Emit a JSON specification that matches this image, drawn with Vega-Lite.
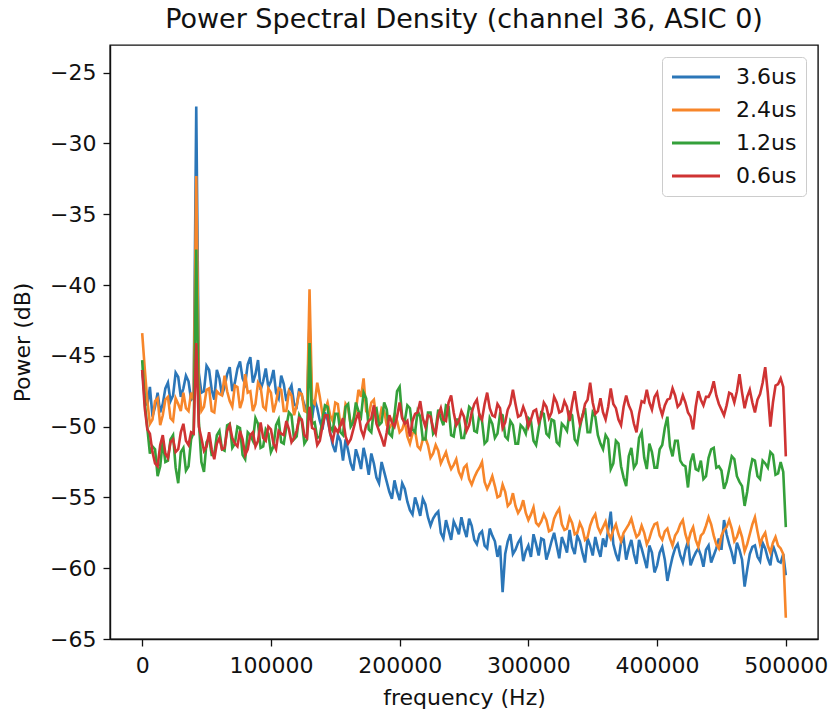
{
  "$schema": "https://vega.github.io/schema/vega-lite/v6.json",
  "autosize": {"type": "none"},
  "width": 708,
  "height": 594,
  "padding": {"left": 110, "top": 45, "right": 15, "bottom": 76},
  "background": "white",
  "title": {"text": "Power Spectral Density (channel 36, ASIC 0)", "font": "DejaVu Sans", "fontSize": 27, "fontWeight": "normal", "color": "#111", "baseline": "bottom", "offset": 8, "dy": 24, "anchor": "middle"},
  "config": {
    "view": {"stroke": "#111", "strokeWidth": 1.4},
    "axis": {"grid": false, "domainColor": "#111", "domainWidth": 1.4, "tickColor": "#111", "tickWidth": 1.3, "tickSize": 7, "labelFont": "DejaVu Sans", "labelFontSize": 22, "labelColor": "#111", "titleFont": "DejaVu Sans", "titleFontSize": 22, "titleFontWeight": "normal", "titleColor": "#111"},
    "legend": {"labelFont": "DejaVu Sans", "labelFontSize": 22, "labelColor": "#111"}
  },
  "datasets": {
    "a": [{"f":0,"p":-46.0},{"f":4000,"p":-48.5},{"f":8000,"p":-49.3},{"f":12000,"p":-47.6},{"f":16000,"p":-48.4},{"f":20000,"p":-46.9},{"f":24000,"p":-47.8},{"f":28000,"p":-46.5},{"f":32000,"p":-47.3},{"f":36000,"p":-46.8},{"f":40000,"p":-47.9},{"f":42000,"p":-27.4},{"f":44000,"p":-46.2},{"f":48000,"p":-47.5},{"f":52000,"p":-46.0},{"f":56000,"p":-48.1},{"f":60000,"p":-46.6},{"f":64000,"p":-47.2},{"f":68000,"p":-45.8},{"f":72000,"p":-46.9},{"f":76000,"p":-45.4},{"f":80000,"p":-47.0},{"f":84000,"p":-45.1},{"f":88000,"p":-46.3},{"f":92000,"p":-47.4},{"f":96000,"p":-45.9},{"f":100000,"p":-46.8},{"f":104000,"p":-47.6},{"f":108000,"p":-46.4},{"f":112000,"p":-48.2},{"f":116000,"p":-47.1},{"f":120000,"p":-48.6},{"f":124000,"p":-47.8},{"f":128000,"p":-48.9},{"f":130000,"p":-42.5},{"f":132000,"p":-49.4},{"f":136000,"p":-48.7},{"f":140000,"p":-50.2},{"f":144000,"p":-49.5},{"f":148000,"p":-51.3},{"f":152000,"p":-50.6},{"f":156000,"p":-52.4},{"f":160000,"p":-51.7},{"f":164000,"p":-53.1},{"f":168000,"p":-52.2},{"f":172000,"p":-51.5},{"f":176000,"p":-53.4},{"f":180000,"p":-52.6},{"f":184000,"p":-54.0},{"f":188000,"p":-53.2},{"f":192000,"p":-54.6},{"f":196000,"p":-53.8},{"f":200000,"p":-55.2},{"f":204000,"p":-54.4},{"f":208000,"p":-55.9},{"f":212000,"p":-55.0},{"f":216000,"p":-56.3},{"f":220000,"p":-55.5},{"f":224000,"p":-57.0},{"f":228000,"p":-56.2},{"f":232000,"p":-57.5},{"f":236000,"p":-56.6},{"f":240000,"p":-58.0},{"f":244000,"p":-57.1},{"f":248000,"p":-56.4},{"f":252000,"p":-57.8},{"f":256000,"p":-57.0},{"f":260000,"p":-58.3},{"f":264000,"p":-57.4},{"f":268000,"p":-58.6},{"f":272000,"p":-57.7},{"f":276000,"p":-59.2},{"f":280000,"p":-61.7},{"f":284000,"p":-58.1},{"f":288000,"p":-59.0},{"f":292000,"p":-58.2},{"f":296000,"p":-59.5},{"f":300000,"p":-58.4},{"f":304000,"p":-57.6},{"f":308000,"p":-59.1},{"f":312000,"p":-58.0},{"f":316000,"p":-58.8},{"f":320000,"p":-57.5},{"f":324000,"p":-59.3},{"f":328000,"p":-58.3},{"f":332000,"p":-57.3},{"f":336000,"p":-59.0},{"f":340000,"p":-58.1},{"f":344000,"p":-59.6},{"f":348000,"p":-58.4},{"f":352000,"p":-57.8},{"f":356000,"p":-59.2},{"f":360000,"p":-58.5},{"f":364000,"p":-56.0},{"f":368000,"p":-59.0},{"f":372000,"p":-58.2},{"f":376000,"p":-59.4},{"f":380000,"p":-58.0},{"f":384000,"p":-59.7},{"f":388000,"p":-58.6},{"f":392000,"p":-60.0},{"f":396000,"p":-58.9},{"f":400000,"p":-59.8},{"f":404000,"p":-58.5},{"f":408000,"p":-60.9},{"f":412000,"p":-59.2},{"f":416000,"p":-58.3},{"f":420000,"p":-59.6},{"f":424000,"p":-58.1},{"f":428000,"p":-59.3},{"f":432000,"p":-58.6},{"f":436000,"p":-59.9},{"f":440000,"p":-58.4},{"f":444000,"p":-59.1},{"f":448000,"p":-57.9},{"f":452000,"p":-56.6},{"f":456000,"p":-58.3},{"f":460000,"p":-59.7},{"f":464000,"p":-58.7},{"f":468000,"p":-61.3},{"f":472000,"p":-59.0},{"f":476000,"p":-58.4},{"f":480000,"p":-59.5},{"f":484000,"p":-58.6},{"f":488000,"p":-59.8},{"f":492000,"p":-58.9},{"f":496000,"p":-59.6},{"f":500000,"p":-60.5},
      {"f":2000,"p":-47.8},{"f":6000,"p":-47.2},{"f":10000,"p":-48.6},{"f":14000,"p":-49.0},{"f":18000,"p":-47.3},{"f":22000,"p":-48.2},{"f":26000,"p":-46.2},{"f":30000,"p":-47.9},{"f":34000,"p":-46.4},{"f":38000,"p":-48.1},{"f":46000,"p":-47.6},{"f":50000,"p":-45.7},{"f":54000,"p":-47.4},{"f":58000,"p":-46.0},{"f":62000,"p":-47.8},{"f":66000,"p":-46.3},{"f":70000,"p":-47.5},{"f":74000,"p":-45.9},{"f":78000,"p":-46.6},{"f":82000,"p":-45.6},{"f":86000,"p":-46.9},{"f":90000,"p":-45.3},{"f":94000,"p":-46.8},{"f":98000,"p":-47.2},{"f":102000,"p":-46.0},{"f":106000,"p":-48.0},{"f":110000,"p":-47.0},{"f":114000,"p":-47.5},{"f":118000,"p":-48.4},{"f":122000,"p":-47.3},{"f":126000,"p":-48.5},{"f":134000,"p":-48.1},{"f":138000,"p":-49.6},{"f":142000,"p":-49.0},{"f":146000,"p":-50.4},{"f":150000,"p":-51.8},{"f":154000,"p":-51.0},{"f":158000,"p":-50.9},{"f":162000,"p":-52.6},{"f":166000,"p":-51.6},{"f":170000,"p":-53.0},{"f":174000,"p":-52.3},{"f":178000,"p":-51.9},{"f":182000,"p":-53.6},{"f":186000,"p":-52.5},{"f":190000,"p":-53.9},{"f":194000,"p":-55.1},{"f":198000,"p":-54.6},{"f":202000,"p":-54.0},{"f":206000,"p":-55.3},{"f":210000,"p":-56.2},{"f":214000,"p":-55.6},{"f":218000,"p":-55.1},{"f":222000,"p":-56.4},{"f":226000,"p":-56.5},{"f":230000,"p":-56.0},{"f":234000,"p":-57.9},{"f":238000,"p":-57.3},{"f":242000,"p":-56.7},{"f":246000,"p":-57.6},{"f":250000,"p":-57.2},{"f":254000,"p":-56.5},{"f":258000,"p":-58.0},{"f":262000,"p":-57.6},{"f":266000,"p":-58.4},{"f":270000,"p":-57.2},{"f":274000,"p":-58.1},{"f":278000,"p":-58.4},{"f":282000,"p":-59.0},{"f":286000,"p":-57.6},{"f":290000,"p":-58.7},{"f":294000,"p":-57.9},{"f":298000,"p":-58.8},{"f":302000,"p":-59.2},{"f":306000,"p":-58.3},{"f":310000,"p":-57.9},{"f":314000,"p":-59.4},{"f":318000,"p":-58.1},{"f":322000,"p":-58.4},{"f":326000,"p":-57.8},{"f":330000,"p":-58.9},{"f":334000,"p":-58.5},{"f":338000,"p":-57.7},{"f":342000,"p":-58.9},{"f":346000,"p":-57.9},{"f":350000,"p":-59.1},{"f":354000,"p":-58.6},{"f":358000,"p":-57.9},{"f":362000,"p":-57.3},{"f":366000,"p":-58.3},{"f":370000,"p":-59.5},{"f":374000,"p":-57.9},{"f":378000,"p":-58.6},{"f":382000,"p":-59.0},{"f":386000,"p":-58.0},{"f":390000,"p":-59.3},{"f":394000,"p":-58.4},{"f":398000,"p":-60.3},{"f":402000,"p":-58.9},{"f":406000,"p":-59.4},{"f":410000,"p":-60.0},{"f":414000,"p":-58.6},{"f":418000,"p":-59.1},{"f":422000,"p":-58.7},{"f":426000,"p":-59.8},{"f":430000,"p":-58.9},{"f":434000,"p":-59.1},{"f":438000,"p":-58.7},{"f":442000,"p":-59.6},{"f":446000,"p":-58.6},{"f":450000,"p":-58.7},{"f":454000,"p":-57.6},{"f":458000,"p":-58.9},{"f":462000,"p":-58.2},{"f":466000,"p":-59.4},{"f":470000,"p":-60.1},{"f":474000,"p":-58.5},{"f":478000,"p":-59.2},{"f":482000,"p":-58.2},{"f":486000,"p":-59.3},{"f":490000,"p":-58.4},{"f":494000,"p":-59.5},{"f":498000,"p":-59.0}],
    "b": [{"f":0,"p":-43.4},{"f":4000,"p":-48.2},{"f":8000,"p":-49.5},{"f":12000,"p":-48.0},{"f":16000,"p":-49.2},{"f":20000,"p":-47.9},{"f":24000,"p":-49.6},{"f":28000,"p":-48.4},{"f":32000,"p":-47.6},{"f":36000,"p":-48.9},{"f":40000,"p":-48.1},{"f":42000,"p":-32.3},{"f":44000,"p":-47.0},{"f":48000,"p":-48.6},{"f":52000,"p":-47.3},{"f":56000,"p":-49.0},{"f":60000,"p":-47.7},{"f":64000,"p":-46.4},{"f":68000,"p":-48.2},{"f":72000,"p":-47.1},{"f":76000,"p":-48.7},{"f":80000,"p":-46.3},{"f":84000,"p":-47.5},{"f":88000,"p":-48.4},{"f":92000,"p":-47.2},{"f":96000,"p":-48.8},{"f":100000,"p":-47.6},{"f":104000,"p":-48.3},{"f":108000,"p":-47.4},{"f":112000,"p":-48.9},{"f":116000,"p":-47.8},{"f":120000,"p":-48.5},{"f":124000,"p":-47.7},{"f":128000,"p":-49.0},{"f":130000,"p":-40.3},{"f":132000,"p":-48.2},{"f":136000,"p":-46.9},{"f":140000,"p":-49.1},{"f":144000,"p":-48.3},{"f":148000,"p":-49.6},{"f":152000,"p":-48.4},{"f":156000,"p":-49.8},{"f":160000,"p":-48.7},{"f":164000,"p":-49.5},{"f":168000,"p":-47.4},{"f":172000,"p":-46.6},{"f":176000,"p":-49.2},{"f":180000,"p":-48.1},{"f":184000,"p":-49.7},{"f":188000,"p":-48.9},{"f":192000,"p":-50.1},{"f":196000,"p":-49.2},{"f":200000,"p":-50.4},{"f":204000,"p":-49.6},{"f":208000,"p":-51.2},{"f":212000,"p":-50.3},{"f":216000,"p":-51.6},{"f":220000,"p":-50.8},{"f":224000,"p":-52.2},{"f":228000,"p":-51.3},{"f":232000,"p":-52.6},{"f":236000,"p":-51.8},{"f":240000,"p":-53.0},{"f":244000,"p":-52.3},{"f":248000,"p":-53.6},{"f":252000,"p":-52.7},{"f":256000,"p":-54.1},{"f":260000,"p":-53.2},{"f":264000,"p":-52.5},{"f":268000,"p":-54.4},{"f":272000,"p":-53.5},{"f":276000,"p":-55.0},{"f":280000,"p":-54.1},{"f":284000,"p":-55.6},{"f":288000,"p":-54.7},{"f":292000,"p":-56.1},{"f":296000,"p":-55.2},{"f":300000,"p":-56.6},{"f":304000,"p":-55.7},{"f":308000,"p":-57.0},{"f":312000,"p":-56.2},{"f":316000,"p":-57.4},{"f":320000,"p":-56.5},{"f":324000,"p":-55.8},{"f":328000,"p":-57.3},{"f":332000,"p":-56.4},{"f":336000,"p":-57.6},{"f":340000,"p":-56.8},{"f":344000,"p":-58.0},{"f":348000,"p":-57.0},{"f":352000,"p":-56.2},{"f":356000,"p":-57.5},{"f":360000,"p":-56.7},{"f":364000,"p":-57.9},{"f":368000,"p":-56.9},{"f":372000,"p":-58.1},{"f":376000,"p":-57.2},{"f":380000,"p":-56.5},{"f":384000,"p":-57.8},{"f":388000,"p":-57.0},{"f":392000,"p":-58.3},{"f":396000,"p":-57.3},{"f":400000,"p":-56.8},{"f":404000,"p":-58.0},{"f":408000,"p":-57.2},{"f":412000,"p":-58.4},{"f":416000,"p":-57.4},{"f":420000,"p":-56.6},{"f":424000,"p":-58.2},{"f":428000,"p":-57.1},{"f":432000,"p":-58.5},{"f":436000,"p":-57.5},{"f":440000,"p":-56.4},{"f":444000,"p":-57.7},{"f":448000,"p":-58.6},{"f":452000,"p":-57.3},{"f":456000,"p":-56.6},{"f":460000,"p":-58.1},{"f":464000,"p":-57.2},{"f":468000,"p":-58.8},{"f":472000,"p":-57.6},{"f":476000,"p":-56.4},{"f":480000,"p":-58.3},{"f":484000,"p":-57.5},{"f":488000,"p":-58.9},{"f":492000,"p":-57.8},{"f":496000,"p":-58.6},{"f":500000,"p":-63.5},
      {"f":2000,"p":-45.9},{"f":6000,"p":-49.8},{"f":10000,"p":-48.2},{"f":14000,"p":-49.9},{"f":18000,"p":-48.1},{"f":22000,"p":-49.4},{"f":26000,"p":-48.0},{"f":30000,"p":-48.9},{"f":34000,"p":-48.7},{"f":38000,"p":-47.6},{"f":46000,"p":-48.9},{"f":50000,"p":-47.4},{"f":54000,"p":-48.9},{"f":58000,"p":-47.5},{"f":62000,"p":-47.8},{"f":66000,"p":-47.5},{"f":70000,"p":-48.6},{"f":74000,"p":-47.2},{"f":78000,"p":-48.1},{"f":82000,"p":-47.6},{"f":86000,"p":-48.9},{"f":90000,"p":-46.9},{"f":94000,"p":-48.6},{"f":98000,"p":-47.3},{"f":102000,"p":-49.0},{"f":106000,"p":-47.3},{"f":110000,"p":-48.9},{"f":114000,"p":-47.5},{"f":118000,"p":-49.2},{"f":122000,"p":-47.6},{"f":126000,"p":-48.9},{"f":134000,"p":-48.4},{"f":138000,"p":-47.9},{"f":142000,"p":-48.8},{"f":146000,"p":-49.2},{"f":150000,"p":-48.3},{"f":154000,"p":-49.9},{"f":158000,"p":-48.4},{"f":162000,"p":-49.9},{"f":166000,"p":-48.9},{"f":170000,"p":-47.9},{"f":174000,"p":-48.9},{"f":178000,"p":-48.3},{"f":182000,"p":-49.5},{"f":186000,"p":-48.7},{"f":190000,"p":-49.9},{"f":194000,"p":-49.8},{"f":198000,"p":-49.6},{"f":202000,"p":-50.2},{"f":206000,"p":-50.7},{"f":210000,"p":-50.5},{"f":214000,"p":-51.4},{"f":218000,"p":-50.9},{"f":222000,"p":-51.3},{"f":226000,"p":-51.9},{"f":230000,"p":-51.7},{"f":234000,"p":-52.2},{"f":238000,"p":-52.5},{"f":242000,"p":-52.7},{"f":246000,"p":-53.2},{"f":250000,"p":-52.9},{"f":254000,"p":-53.7},{"f":258000,"p":-53.6},{"f":262000,"p":-52.9},{"f":266000,"p":-53.9},{"f":270000,"p":-54.0},{"f":274000,"p":-54.2},{"f":278000,"p":-54.9},{"f":282000,"p":-54.6},{"f":286000,"p":-55.4},{"f":290000,"p":-55.6},{"f":294000,"p":-55.8},{"f":298000,"p":-56.1},{"f":302000,"p":-56.2},{"f":306000,"p":-56.8},{"f":310000,"p":-56.7},{"f":314000,"p":-56.6},{"f":318000,"p":-57.3},{"f":322000,"p":-56.1},{"f":326000,"p":-56.9},{"f":330000,"p":-57.2},{"f":334000,"p":-56.8},{"f":338000,"p":-57.5},{"f":342000,"p":-57.2},{"f":346000,"p":-57.8},{"f":350000,"p":-56.5},{"f":354000,"p":-57.1},{"f":358000,"p":-57.1},{"f":362000,"p":-57.5},{"f":366000,"p":-57.3},{"f":370000,"p":-57.6},{"f":374000,"p":-57.5},{"f":378000,"p":-56.9},{"f":382000,"p":-57.2},{"f":386000,"p":-57.6},{"f":390000,"p":-57.5},{"f":394000,"p":-57.9},{"f":398000,"p":-56.9},{"f":402000,"p":-57.7},{"f":406000,"p":-57.4},{"f":410000,"p":-57.9},{"f":414000,"p":-57.7},{"f":418000,"p":-56.9},{"f":422000,"p":-57.6},{"f":426000,"p":-57.5},{"f":430000,"p":-58.0},{"f":434000,"p":-57.7},{"f":438000,"p":-57.0},{"f":442000,"p":-56.9},{"f":446000,"p":-58.3},{"f":450000,"p":-57.7},{"f":454000,"p":-57.1},{"f":458000,"p":-57.2},{"f":462000,"p":-57.8},{"f":466000,"p":-57.8},{"f":470000,"p":-58.3},{"f":474000,"p":-56.9},{"f":478000,"p":-57.4},{"f":482000,"p":-57.8},{"f":486000,"p":-58.4},{"f":490000,"p":-58.2},{"f":494000,"p":-58.4},{"f":498000,"p":-59.0}],
    "c": [{"f":0,"p":-45.3},{"f":4000,"p":-50.1},{"f":8000,"p":-51.4},{"f":12000,"p":-53.5},{"f":16000,"p":-51.0},{"f":20000,"p":-52.4},{"f":24000,"p":-50.6},{"f":28000,"p":-54.0},{"f":32000,"p":-51.5},{"f":36000,"p":-52.8},{"f":40000,"p":-50.4},{"f":42000,"p":-37.5},{"f":44000,"p":-49.6},{"f":48000,"p":-53.2},{"f":52000,"p":-50.8},{"f":56000,"p":-52.0},{"f":60000,"p":-50.3},{"f":64000,"p":-51.7},{"f":68000,"p":-49.8},{"f":72000,"p":-51.2},{"f":76000,"p":-50.1},{"f":80000,"p":-52.3},{"f":84000,"p":-50.6},{"f":88000,"p":-49.4},{"f":92000,"p":-51.5},{"f":96000,"p":-50.2},{"f":100000,"p":-51.8},{"f":104000,"p":-49.9},{"f":108000,"p":-51.1},{"f":112000,"p":-50.0},{"f":116000,"p":-49.2},{"f":120000,"p":-50.7},{"f":124000,"p":-49.6},{"f":128000,"p":-50.9},{"f":130000,"p":-44.1},{"f":132000,"p":-49.8},{"f":136000,"p":-50.8},{"f":140000,"p":-49.5},{"f":144000,"p":-48.6},{"f":148000,"p":-50.3},{"f":152000,"p":-49.1},{"f":156000,"p":-50.6},{"f":160000,"p":-48.4},{"f":164000,"p":-49.7},{"f":168000,"p":-48.9},{"f":172000,"p":-47.6},{"f":176000,"p":-50.2},{"f":180000,"p":-48.8},{"f":184000,"p":-49.9},{"f":188000,"p":-48.3},{"f":192000,"p":-50.5},{"f":196000,"p":-49.2},{"f":200000,"p":-47.2},{"f":204000,"p":-49.6},{"f":208000,"p":-48.7},{"f":212000,"p":-50.4},{"f":216000,"p":-49.3},{"f":220000,"p":-50.9},{"f":224000,"p":-49.0},{"f":228000,"p":-50.2},{"f":232000,"p":-49.4},{"f":236000,"p":-48.5},{"f":240000,"p":-50.6},{"f":244000,"p":-49.5},{"f":248000,"p":-50.8},{"f":252000,"p":-49.7},{"f":256000,"p":-48.8},{"f":260000,"p":-50.4},{"f":264000,"p":-49.6},{"f":268000,"p":-51.0},{"f":272000,"p":-49.8},{"f":276000,"p":-50.5},{"f":280000,"p":-49.2},{"f":284000,"p":-50.9},{"f":288000,"p":-49.9},{"f":292000,"p":-51.2},{"f":296000,"p":-50.1},{"f":300000,"p":-49.4},{"f":304000,"p":-51.0},{"f":308000,"p":-50.2},{"f":312000,"p":-49.1},{"f":316000,"p":-50.7},{"f":320000,"p":-49.6},{"f":324000,"p":-51.3},{"f":328000,"p":-50.0},{"f":332000,"p":-49.0},{"f":336000,"p":-50.9},{"f":340000,"p":-50.1},{"f":344000,"p":-48.7},{"f":348000,"p":-50.4},{"f":352000,"p":-49.3},{"f":356000,"p":-51.2},{"f":360000,"p":-50.6},{"f":364000,"p":-53.0},{"f":368000,"p":-51.0},{"f":372000,"p":-52.8},{"f":376000,"p":-54.2},{"f":380000,"p":-51.5},{"f":384000,"p":-52.6},{"f":388000,"p":-50.4},{"f":392000,"p":-53.0},{"f":396000,"p":-51.8},{"f":400000,"p":-52.9},{"f":404000,"p":-51.3},{"f":408000,"p":-49.3},{"f":412000,"p":-52.1},{"f":416000,"p":-51.0},{"f":420000,"p":-52.7},{"f":424000,"p":-54.3},{"f":428000,"p":-51.9},{"f":432000,"p":-53.1},{"f":436000,"p":-53.7},{"f":440000,"p":-52.2},{"f":444000,"p":-51.5},{"f":448000,"p":-52.8},{"f":452000,"p":-54.4},{"f":456000,"p":-53.0},{"f":460000,"p":-52.3},{"f":464000,"p":-53.9},{"f":468000,"p":-55.6},{"f":472000,"p":-53.2},{"f":476000,"p":-52.4},{"f":480000,"p":-53.7},{"f":484000,"p":-52.6},{"f":488000,"p":-51.8},{"f":492000,"p":-53.4},{"f":496000,"p":-52.5},{"f":500000,"p":-57.1},
      {"f":2000,"p":-48.3},{"f":6000,"p":-51.9},{"f":10000,"p":-51.6},{"f":14000,"p":-52.8},{"f":18000,"p":-52.5},{"f":22000,"p":-50.9},{"f":26000,"p":-52.9},{"f":30000,"p":-51.8},{"f":34000,"p":-53.1},{"f":38000,"p":-50.9},{"f":46000,"p":-52.5},{"f":50000,"p":-51.1},{"f":54000,"p":-52.0},{"f":58000,"p":-50.6},{"f":62000,"p":-51.6},{"f":66000,"p":-49.9},{"f":70000,"p":-51.5},{"f":74000,"p":-50.0},{"f":78000,"p":-52.0},{"f":82000,"p":-50.4},{"f":86000,"p":-51.0},{"f":90000,"p":-49.8},{"f":94000,"p":-51.4},{"f":98000,"p":-50.5},{"f":102000,"p":-51.4},{"f":106000,"p":-49.5},{"f":110000,"p":-51.2},{"f":114000,"p":-49.0},{"f":118000,"p":-50.9},{"f":122000,"p":-49.2},{"f":126000,"p":-51.2},{"f":134000,"p":-49.7},{"f":138000,"p":-50.7},{"f":142000,"p":-48.5},{"f":146000,"p":-50.0},{"f":150000,"p":-49.1},{"f":154000,"p":-50.4},{"f":158000,"p":-48.6},{"f":162000,"p":-50.0},{"f":166000,"p":-48.3},{"f":170000,"p":-49.3},{"f":174000,"p":-48.0},{"f":178000,"p":-50.4},{"f":182000,"p":-48.7},{"f":186000,"p":-49.7},{"f":190000,"p":-48.8},{"f":194000,"p":-50.7},{"f":198000,"p":-47.5},{"f":202000,"p":-49.4},{"f":206000,"p":-48.5},{"f":210000,"p":-50.2},{"f":214000,"p":-48.9},{"f":218000,"p":-50.9},{"f":222000,"p":-49.0},{"f":226000,"p":-50.5},{"f":230000,"p":-48.8},{"f":234000,"p":-49.9},{"f":238000,"p":-48.6},{"f":242000,"p":-50.7},{"f":246000,"p":-49.5},{"f":250000,"p":-50.8},{"f":254000,"p":-48.6},{"f":258000,"p":-50.3},{"f":262000,"p":-49.1},{"f":266000,"p":-51.2},{"f":270000,"p":-49.4},{"f":274000,"p":-50.8},{"f":278000,"p":-49.1},{"f":282000,"p":-50.7},{"f":286000,"p":-49.6},{"f":290000,"p":-51.2},{"f":294000,"p":-49.9},{"f":298000,"p":-50.5},{"f":302000,"p":-49.6},{"f":306000,"p":-51.3},{"f":310000,"p":-49.0},{"f":314000,"p":-50.5},{"f":318000,"p":-49.5},{"f":322000,"p":-51.1},{"f":326000,"p":-49.8},{"f":330000,"p":-50.3},{"f":334000,"p":-49.2},{"f":338000,"p":-51.2},{"f":342000,"p":-49.2},{"f":346000,"p":-50.4},{"f":350000,"p":-49.0},{"f":354000,"p":-50.6},{"f":358000,"p":-51.6},{"f":362000,"p":-50.9},{"f":366000,"p":-52.6},{"f":370000,"p":-51.2},{"f":374000,"p":-53.6},{"f":378000,"p":-52.1},{"f":382000,"p":-52.9},{"f":386000,"p":-50.8},{"f":390000,"p":-52.2},{"f":394000,"p":-51.2},{"f":398000,"p":-52.9},{"f":402000,"p":-51.6},{"f":406000,"p":-50.1},{"f":410000,"p":-51.4},{"f":414000,"p":-51.0},{"f":418000,"p":-52.4},{"f":422000,"p":-52.8},{"f":426000,"p":-52.5},{"f":430000,"p":-53.0},{"f":434000,"p":-52.4},{"f":438000,"p":-53.5},{"f":442000,"p":-51.6},{"f":446000,"p":-52.9},{"f":450000,"p":-53.1},{"f":454000,"p":-53.9},{"f":458000,"p":-52.1},{"f":462000,"p":-53.5},{"f":466000,"p":-54.2},{"f":470000,"p":-54.6},{"f":474000,"p":-52.3},{"f":478000,"p":-53.5},{"f":482000,"p":-52.4},{"f":486000,"p":-52.9},{"f":490000,"p":-52.0},{"f":494000,"p":-53.3},{"f":498000,"p":-53.2}],
    "d": [{"f":0,"p":-46.0},{"f":4000,"p":-50.2},{"f":8000,"p":-51.8},{"f":12000,"p":-52.8},{"f":16000,"p":-50.6},{"f":20000,"p":-52.2},{"f":24000,"p":-50.9},{"f":28000,"p":-51.6},{"f":32000,"p":-49.8},{"f":36000,"p":-51.3},{"f":40000,"p":-50.5},{"f":42000,"p":-44.1},{"f":44000,"p":-50.0},{"f":48000,"p":-51.7},{"f":52000,"p":-50.4},{"f":56000,"p":-52.3},{"f":60000,"p":-50.8},{"f":64000,"p":-51.5},{"f":68000,"p":-49.9},{"f":72000,"p":-51.2},{"f":76000,"p":-50.3},{"f":80000,"p":-52.0},{"f":84000,"p":-50.6},{"f":88000,"p":-51.4},{"f":92000,"p":-49.7},{"f":96000,"p":-51.0},{"f":100000,"p":-50.2},{"f":104000,"p":-51.6},{"f":108000,"p":-50.5},{"f":112000,"p":-49.6},{"f":116000,"p":-51.1},{"f":120000,"p":-50.3},{"f":124000,"p":-49.5},{"f":128000,"p":-50.8},{"f":130000,"p":-48.6},{"f":132000,"p":-50.1},{"f":136000,"p":-51.3},{"f":140000,"p":-50.0},{"f":144000,"p":-49.2},{"f":148000,"p":-51.0},{"f":152000,"p":-50.4},{"f":156000,"p":-49.4},{"f":160000,"p":-51.2},{"f":164000,"p":-50.2},{"f":168000,"p":-49.0},{"f":172000,"p":-50.7},{"f":176000,"p":-49.6},{"f":180000,"p":-48.5},{"f":184000,"p":-50.3},{"f":188000,"p":-51.4},{"f":192000,"p":-49.2},{"f":196000,"p":-50.0},{"f":200000,"p":-48.3},{"f":204000,"p":-49.8},{"f":208000,"p":-50.7},{"f":212000,"p":-49.1},{"f":216000,"p":-48.2},{"f":220000,"p":-50.0},{"f":224000,"p":-49.3},{"f":228000,"p":-50.5},{"f":232000,"p":-48.7},{"f":236000,"p":-49.6},{"f":240000,"p":-47.8},{"f":244000,"p":-49.9},{"f":248000,"p":-48.9},{"f":252000,"p":-50.3},{"f":256000,"p":-49.0},{"f":260000,"p":-48.1},{"f":264000,"p":-49.5},{"f":268000,"p":-47.6},{"f":272000,"p":-49.2},{"f":276000,"p":-48.4},{"f":280000,"p":-50.1},{"f":284000,"p":-48.8},{"f":288000,"p":-47.4},{"f":292000,"p":-49.3},{"f":296000,"p":-48.6},{"f":300000,"p":-50.0},{"f":304000,"p":-48.9},{"f":308000,"p":-49.7},{"f":312000,"p":-48.3},{"f":316000,"p":-49.4},{"f":320000,"p":-47.9},{"f":324000,"p":-49.0},{"f":328000,"p":-48.2},{"f":332000,"p":-49.6},{"f":336000,"p":-47.5},{"f":340000,"p":-49.8},{"f":344000,"p":-48.4},{"f":348000,"p":-46.9},{"f":352000,"p":-49.1},{"f":356000,"p":-48.0},{"f":360000,"p":-49.5},{"f":364000,"p":-47.3},{"f":368000,"p":-48.7},{"f":372000,"p":-49.9},{"f":376000,"p":-47.8},{"f":380000,"p":-48.9},{"f":384000,"p":-50.4},{"f":388000,"p":-48.2},{"f":392000,"p":-47.4},{"f":396000,"p":-48.8},{"f":400000,"p":-47.6},{"f":404000,"p":-49.2},{"f":408000,"p":-48.1},{"f":412000,"p":-47.3},{"f":416000,"p":-48.6},{"f":420000,"p":-47.8},{"f":424000,"p":-49.0},{"f":428000,"p":-50.2},{"f":432000,"p":-47.5},{"f":436000,"p":-48.5},{"f":440000,"p":-47.9},{"f":444000,"p":-46.8},{"f":448000,"p":-48.4},{"f":452000,"p":-49.2},{"f":456000,"p":-47.6},{"f":460000,"p":-48.3},{"f":464000,"p":-46.3},{"f":468000,"p":-48.7},{"f":472000,"p":-47.4},{"f":476000,"p":-49.0},{"f":480000,"p":-47.7},{"f":484000,"p":-45.8},{"f":488000,"p":-50.0},{"f":492000,"p":-47.1},{"f":496000,"p":-46.6},{"f":500000,"p":-52.1},
      {"f":2000,"p":-48.7},{"f":6000,"p":-50.5},{"f":10000,"p":-52.6},{"f":14000,"p":-51.3},{"f":18000,"p":-51.9},{"f":22000,"p":-51.1},{"f":26000,"p":-51.8},{"f":30000,"p":-50.4},{"f":34000,"p":-51.0},{"f":38000,"p":-50.4},{"f":46000,"p":-50.8},{"f":50000,"p":-51.4},{"f":54000,"p":-51.6},{"f":58000,"p":-51.2},{"f":62000,"p":-51.6},{"f":66000,"p":-50.3},{"f":70000,"p":-50.8},{"f":74000,"p":-51.4},{"f":78000,"p":-50.9},{"f":82000,"p":-51.6},{"f":86000,"p":-50.4},{"f":90000,"p":-51.0},{"f":94000,"p":-50.8},{"f":98000,"p":-50.0},{"f":102000,"p":-51.2},{"f":106000,"p":-50.3},{"f":110000,"p":-50.6},{"f":114000,"p":-50.2},{"f":118000,"p":-50.8},{"f":122000,"p":-49.4},{"f":126000,"p":-50.6},{"f":134000,"p":-50.2},{"f":138000,"p":-51.0},{"f":142000,"p":-49.2},{"f":146000,"p":-50.5},{"f":150000,"p":-50.1},{"f":154000,"p":-49.9},{"f":158000,"p":-50.7},{"f":162000,"p":-50.9},{"f":166000,"p":-49.5},{"f":170000,"p":-50.2},{"f":174000,"p":-49.9},{"f":178000,"p":-49.4},{"f":182000,"p":-49.8},{"f":186000,"p":-50.8},{"f":190000,"p":-50.4},{"f":194000,"p":-49.7},{"f":198000,"p":-49.3},{"f":202000,"p":-49.4},{"f":206000,"p":-49.6},{"f":210000,"p":-49.6},{"f":214000,"p":-49.0},{"f":218000,"p":-49.4},{"f":222000,"p":-49.2},{"f":226000,"p":-50.1},{"f":230000,"p":-49.2},{"f":234000,"p":-49.5},{"f":238000,"p":-48.3},{"f":242000,"p":-49.0},{"f":246000,"p":-49.6},{"f":250000,"p":-49.3},{"f":254000,"p":-49.9},{"f":258000,"p":-48.4},{"f":262000,"p":-49.2},{"f":266000,"p":-48.4},{"f":270000,"p":-48.7},{"f":274000,"p":-49.3},{"f":278000,"p":-48.7},{"f":282000,"p":-49.7},{"f":286000,"p":-48.4},{"f":290000,"p":-48.4},{"f":294000,"p":-49.2},{"f":298000,"p":-49.1},{"f":302000,"p":-49.5},{"f":306000,"p":-48.8},{"f":310000,"p":-49.3},{"f":314000,"p":-48.6},{"f":318000,"p":-49.0},{"f":322000,"p":-48.3},{"f":326000,"p":-48.9},{"f":330000,"p":-48.6},{"f":334000,"p":-48.4},{"f":338000,"p":-48.8},{"f":342000,"p":-49.3},{"f":346000,"p":-48.1},{"f":350000,"p":-48.3},{"f":354000,"p":-48.9},{"f":358000,"p":-49.0},{"f":362000,"p":-48.6},{"f":366000,"p":-48.4},{"f":370000,"p":-49.5},{"f":374000,"p":-48.6},{"f":378000,"p":-48.5},{"f":382000,"p":-49.8},{"f":386000,"p":-49.1},{"f":390000,"p":-48.3},{"f":394000,"p":-48.3},{"f":398000,"p":-47.9},{"f":402000,"p":-48.6},{"f":406000,"p":-48.5},{"f":410000,"p":-48.0},{"f":414000,"p":-47.8},{"f":418000,"p":-48.4},{"f":422000,"p":-48.3},{"f":426000,"p":-49.3},{"f":430000,"p":-48.6},{"f":434000,"p":-48.1},{"f":438000,"p":-47.9},{"f":442000,"p":-47.5},{"f":446000,"p":-47.8},{"f":450000,"p":-48.8},{"f":454000,"p":-48.5},{"f":458000,"p":-47.7},{"f":462000,"p":-47.5},{"f":466000,"p":-47.6},{"f":470000,"p":-47.9},{"f":474000,"p":-48.3},{"f":478000,"p":-48.1},{"f":482000,"p":-46.9},{"f":486000,"p":-47.6},{"f":490000,"p":-48.3},{"f":494000,"p":-47.0},{"f":498000,"p":-47.2}]
  },
  "encoding": {
    "x": {"field": "f", "type": "quantitative", "scale": {"domain": [-25000, 525000], "nice": false, "zero": false}, "axis": {"values": [0, 100000, 200000, 300000, 400000, 500000], "format": "d", "title": "frequency (Hz)", "labelPadding": 9, "titlePadding": 11}},
    "y": {"field": "p", "type": "quantitative", "scale": {"domain": [-65, -23.05], "nice": false, "zero": false}, "axis": {"values": [-65, -60, -55, -50, -45, -40, -35, -30, -25], "title": "Power (dB)", "labelPadding": 7, "titlePadding": 15}}
  },
  "layer": [
    {"data": {"name": "a"}, "mark": {"type": "line", "strokeWidth": 2.6, "clip": true}, "encoding": {"color": {"datum": "3.6us", "type": "nominal", "scale": {"domain": ["3.6us", "2.4us", "1.2us", "0.6us"], "range": ["#2b76b8", "#f7862a", "#34a03a", "#cf3333"]}, "legend": {"title": null, "orient": "top-right", "offset": 12, "symbolType": "M-1.25,0H4.75", "symbolSize": 256, "symbolStrokeWidth": 2.8, "labelOffset": 43, "rowPadding": 11, "padding": 9, "strokeColor": "#cccccc", "fillColor": "white", "cornerRadius": 4}}}},
    {"data": {"name": "b"}, "mark": {"type": "line", "strokeWidth": 2.6, "clip": true}, "encoding": {"color": {"datum": "2.4us", "type": "nominal"}}},
    {"data": {"name": "c"}, "mark": {"type": "line", "strokeWidth": 2.6, "clip": true}, "encoding": {"color": {"datum": "1.2us", "type": "nominal"}}},
    {"data": {"name": "d"}, "mark": {"type": "line", "strokeWidth": 2.6, "clip": true}, "encoding": {"color": {"datum": "0.6us", "type": "nominal"}}}
  ]
}
